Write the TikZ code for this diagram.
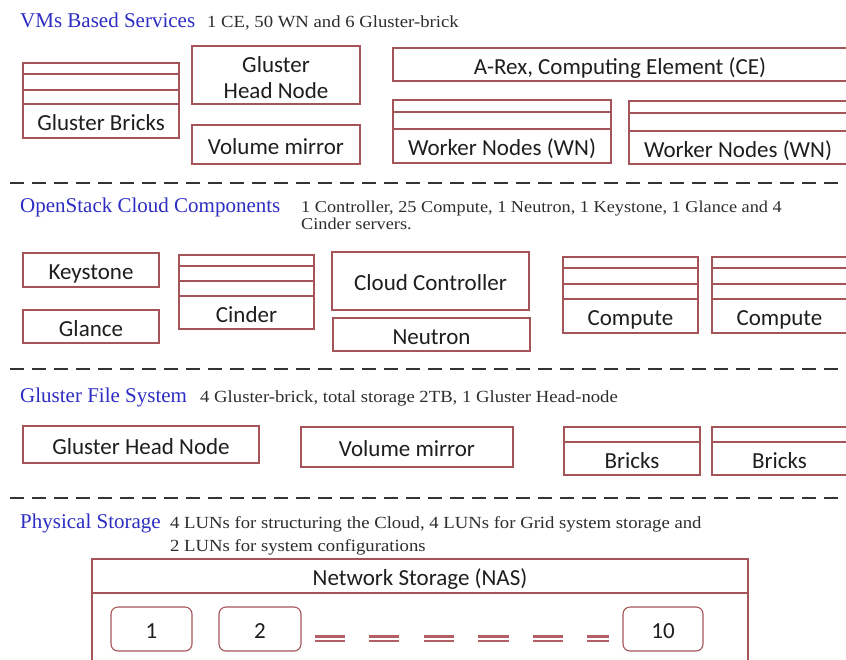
\documentclass[tikz,border=0pt]{standalone}
\usepackage{fontspec}
\setmainfont{Liberation Serif}
\newfontfamily\descfont[FakeStretch=1.1]{Liberation Serif}
\newfontfamily\boxfont{Carlito}
\definecolor{boxred}{RGB}{165,85,90}
\definecolor{ttlblue}{RGB}{45,45,195}
\definecolor{txtgray}{RGB}{30,30,30}
\definecolor{descgray}{RGB}{45,45,45}
\definecolor{dashred}{RGB}{180,95,100}
\tikzset{
  box/.style={draw=boxred, line width=1.1pt, fill=white, inner sep=0pt, text=txtgray,
    font=\boxfont\fontsize{23}{26}\selectfont, text height=19.1pt, text depth=0pt},
  lunbox/.style={box, rounded corners=7pt},
  boxline/.style={draw=boxred, line width=1.1pt},
  lbl/.style={inner sep=0pt, text=txtgray, font=\boxfont\fontsize{23}{26}\selectfont,
    text height=19.1pt, text depth=0pt},
  ttl/.style={inner sep=0pt, anchor=base west, text=ttlblue, font=\fontsize{21}{24}\selectfont},
  desc/.style={inner sep=0pt, anchor=base west, text=descgray, font=\descfont\fontsize{17}{19}\selectfont},
  sep/.style={draw=black!80, line width=2.3pt, dash pattern=on 14pt off 8pt},
  lundash/.style={draw=dashred, line width=2.4pt},
}
\newcommand\rbox[6]{\node[box, minimum width={#4-#2}, minimum height={#5-#3}] (#1) at ({(#2+#4)/2},{(#3+#5)/2}) {#6};}
\begin{document}
\begin{tikzpicture}[x=1pt, y=-1pt]
\path[use as bounding box, fill=white] (0,0) rectangle (846,659);
\clip (0,0) rectangle (846,659);

% ---------- Section 1 ----------
\node[ttl] (t1) at (20,27) {VMs Based Services};
\node[desc] (d1) at (207,27) {1 CE, 50 WN and 6 Gluster-brick};

\rbox{gb}{23}{63}{179}{138}{}
\draw[boxline] (23,74) -- (179,74) (23,90) -- (179,90) (23,104) -- (179,104);
\node[lbl] (gbt) at (101,121) {Gluster Bricks};

\rbox{ghn1}{192}{46}{360}{104}{}
\node[inner sep=0pt, text=txtgray, font=\boxfont\fontsize{23}{25.6}\selectfont, align=center, anchor=base] (ghn1t) at (276,98.3) {Gluster\\Head Node};
\rbox{vm1}{192}{125}{360}{164}{Volume mirror}

\rbox{arex}{393}{48}{847}{81}{A-Rex, Computing Element (CE)}

\rbox{wn1}{393}{100}{611}{163}{}
\draw[boxline] (393,112) -- (611,112) (393,129) -- (611,129);
\node[lbl] (wn1t) at (502,146) {Worker Nodes (WN)};

\rbox{wn2}{629}{101}{847}{164}{}
\draw[boxline] (629,113) -- (847,113) (629,131) -- (847,131);
\node[lbl] (wn2t) at (738,147.5) {Worker Nodes (WN)};

\coordinate (s1a) at (10,183); \coordinate (s1b) at (846,183);
\draw[sep] (s1a) -- (s1b);

% ---------- Section 2 ----------
\node[ttl] (t2) at (20,212) {OpenStack Cloud Components};
\node[desc, font=\descfont\fontsize{16.6}{19}\selectfont] (d2) at (301,212) {\begin{tabular}[t]{@{}l@{}}1 Controller, 25 Compute, 1 Neutron, 1 Keystone, 1 Glance and 4\\[-1.5pt]Cinder servers.\end{tabular}};

\rbox{key}{23}{253}{159}{287}{Keystone}
\rbox{gla}{23}{310}{159}{343}{Glance}

\rbox{cin}{179}{255}{314}{329}{}
\draw[boxline] (179,266) -- (314,266) (179,281) -- (314,281) (179,296) -- (314,296);
\node[lbl] (cint) at (246.5,312.5) {Cinder};

\rbox{cc}{332}{252}{529}{310}{Cloud Controller}
\rbox{neu}{333}{318}{530}{351}{Neutron}

\rbox{cmp1}{563}{257}{698}{333}{}
\draw[boxline] (563,268) -- (698,268) (563,284) -- (698,284) (563,299) -- (698,299);
\node[lbl] (cmp1t) at (630.5,316) {Compute};

\rbox{cmp2}{712}{257}{847}{333}{}
\draw[boxline] (712,268) -- (847,268) (712,284) -- (847,284) (712,299) -- (847,299);
\node[lbl] (cmp2t) at (779.5,316) {Compute};

\coordinate (s2a) at (10,369); \coordinate (s2b) at (846,369);
\draw[sep] (s2a) -- (s2b);

% ---------- Section 3 ----------
\node[ttl] (t3) at (20,402) {Gluster File System};
\node[desc] (d3) at (200,402) {4 Gluster-brick, total storage 2TB, 1 Gluster Head-node};

\rbox{ghn3}{23}{426}{259}{463}{Gluster Head Node}
\rbox{vm3}{301}{427}{513}{467}{Volume mirror}

\rbox{br1}{564}{427}{700}{475}{}
\draw[boxline] (564,442) -- (700,442);
\node[lbl] (br1t) at (632,458.5) {Bricks};

\rbox{br2}{712}{427}{847}{475}{}
\draw[boxline] (712,442) -- (847,442);
\node[lbl] (br2t) at (779.5,458.5) {Bricks};

\coordinate (s3a) at (10,498); \coordinate (s3b) at (846,498);
\draw[sep] (s3a) -- (s3b);

% ---------- Section 4 ----------
\node[ttl] (t4) at (20,528) {Physical Storage};
\node[desc] (d4) at (170,528) {\begin{tabular}[t]{@{}l@{}}4 LUNs for structuring the Cloud, 4 LUNs for Grid system storage and\\[4pt]2 LUNs for system configurations\end{tabular}};

\rbox{nas}{92}{559}{748}{670}{}
\draw[boxline] (92,593) -- (748,593);
\node[lbl] (nast) at (420,576) {Network Storage (NAS)};

\node[lunbox, minimum width=81, minimum height=44] (lun1) at (151.5,629) {1};
\node[lunbox, minimum width=82, minimum height=44] (lun2) at (260,629) {2};
\node[lunbox, minimum width=80, minimum height=44] (lun10) at (663,629) {10};

\foreach \a/\b in {315/345, 369/399, 424/454, 478/509, 533/563, 587/609} {
  \draw[lundash] (\a,636.5) -- (\b,636.5) (\a,641) -- (\b,641);
}
\end{tikzpicture}
\end{document}
